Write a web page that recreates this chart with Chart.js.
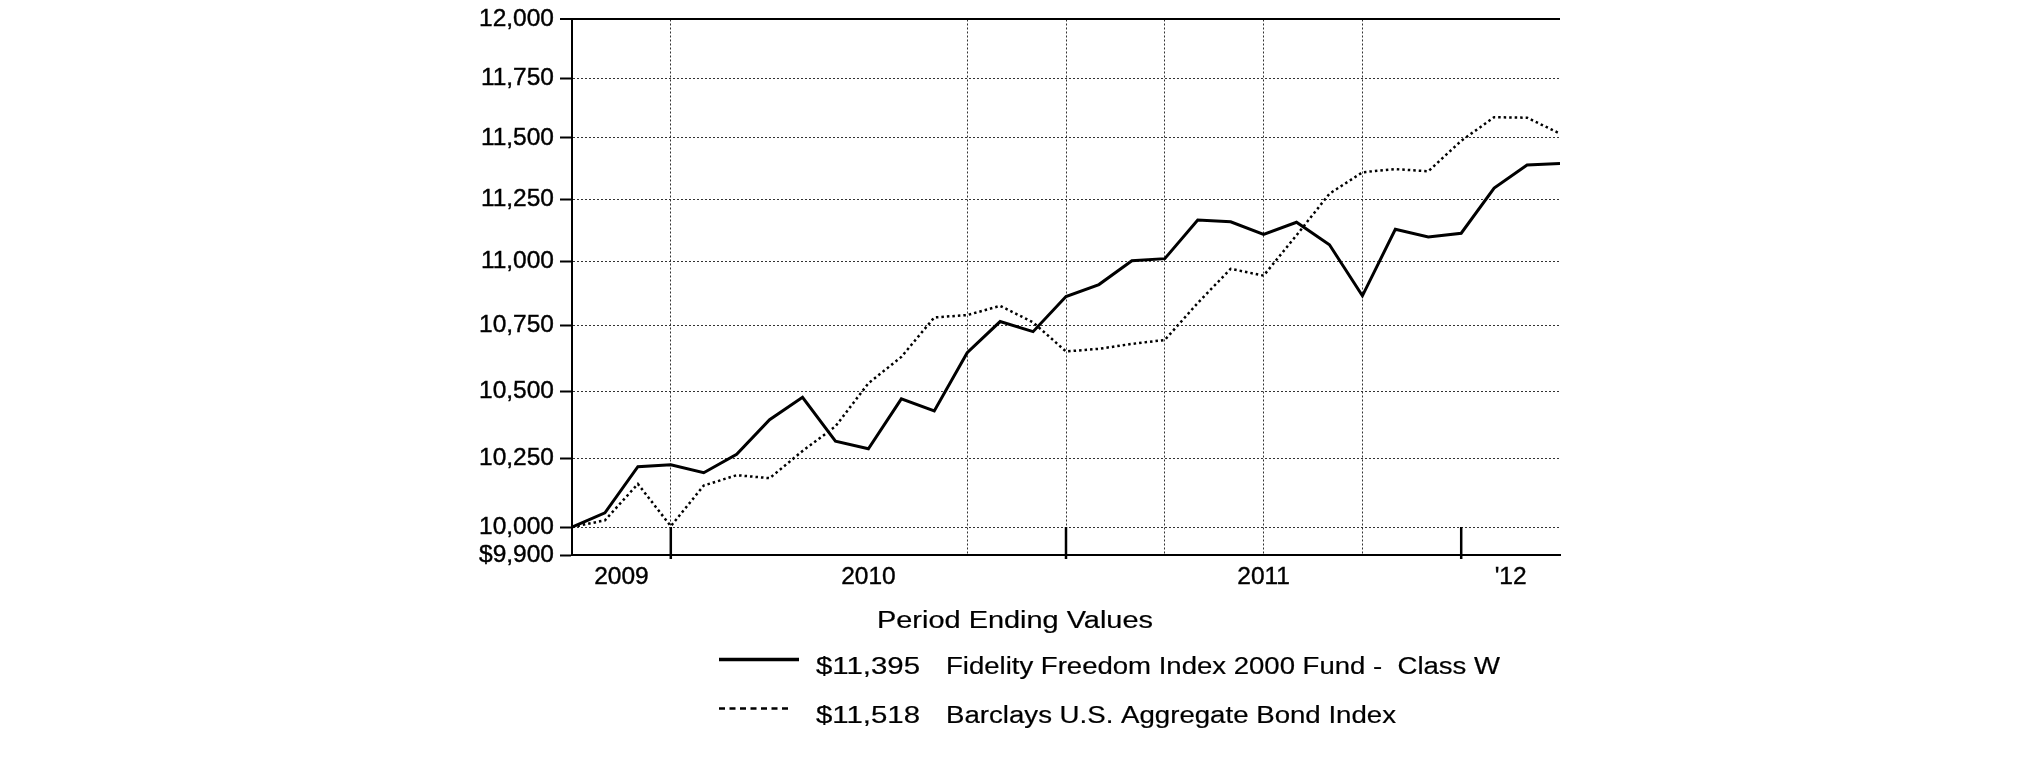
<!DOCTYPE html>
<html><head><meta charset="utf-8">
<script src="https://cdn.jsdelivr.net/npm/chart.js@4.4.0/dist/chart.umd.min.js"></script>
<style>html,body{margin:0;padding:0;background:#fff;} #wrap{width:2025px;height:761px;}</style>
</head><body><div id="wrap"><canvas id="c" width="2025" height="761"></canvas></div>
<script>
// ---- data ----
const months = ['Sep 2009','Oct 2009','Nov 2009','Dec 2009','Jan 2010','Feb 2010','Mar 2010','Apr 2010','May 2010','Jun 2010','Jul 2010','Aug 2010','Sep 2010','Oct 2010','Nov 2010','Dec 2010','Jan 2011','Feb 2011','Mar 2011','Apr 2011','May 2011','Jun 2011','Jul 2011','Aug 2011','Sep 2011','Oct 2011','Nov 2011','Dec 2011','Jan 2012','Feb 2012','Mar 2012'];
const fundName = 'Fidelity Freedom Index 2000 Fund -  Class W';
const bondName = 'Barclays U.S. Aggregate Bond Index';
const fundValues = [10000, 10051, 10219, 10226, 10197, 10265, 10393, 10477, 10313, 10285, 10471, 10426, 10646, 10766, 10727, 10863, 10910, 11004, 11012, 11166, 11159, 11108, 11157, 11067, 10866, 11129, 11098, 11113, 11295, 11389, 11395];
const bondValues = [10000, 10024, 10156, 10003, 10150, 10188, 10177, 10277, 10368, 10530, 10630, 10782, 10791, 10827, 10763, 10651, 10661, 10680, 10695, 10838, 10972, 10945, 11105, 11272, 11359, 11372, 11363, 11488, 11586, 11584, 11518];
const yTickValues = [9900, 10000, 10250, 10500, 10750, 11000, 11250, 11500, 11750, 12000];
const yearLabels = ['2009', '2010', '2011', "'12"];
const gridMonths = ['Dec 2009', 'Sep 2010', 'Dec 2010', 'Mar 2011', 'Jun 2011', 'Sep 2011'];
const legendTitle = 'Period Ending Values';

// ---- derived ----
const gridIdx = gridMonths.map(m => months.indexOf(m));
const yearEnds = months.map((m, i) => m.startsWith('Dec') ? i : -1).filter(i => i >= 0);
const bounds = [0, ...yearEnds, months.length - 1];
const yearLabelPos = yearLabels.map((l, k) => (bounds[k] + bounds[k + 1]) / 2);
const xTickVals = [...new Set([...gridIdx, ...yearLabelPos])].sort((a, b) => a - b);
const fmt = v => v.toLocaleString('en-US');

const FONT = '"Liberation Sans", Arial, Helvetica, sans-serif';
const GRID = '#333';

const yearTicks = {
  id: 'yearTicks',
  afterDraw(chart) {
    const { ctx, scales: { x, y } } = chart;
    ctx.save();
    ctx.strokeStyle = '#000';
    ctx.lineWidth = 2.5;
    yearEnds.forEach(i => {
      const px = x.getPixelForValue(i);
      ctx.beginPath();
      ctx.moveTo(px, y.getPixelForValue(yTickValues[1]));
      ctx.lineTo(px, y.bottom + 4);
      ctx.stroke();
    });
    ctx.restore();
  }
};

// draws text horizontally stretched to the given width (reference legend glyphs are wide)
function wideText(ctx, text, x, y, width) {
  const w = ctx.measureText(text).width;
  const k = width / w;
  ctx.save();
  ctx.translate(x, y);
  ctx.scale(k, 1);
  ctx.fillText(text, 0, 0);
  ctx.lineWidth = 0.2;
  ctx.strokeText(text, 0, 0);
  ctx.restore();
}

const legendPlugin = {
  id: 'periodLegend',
  afterDraw(chart) {
    const ctx = chart.ctx;
    ctx.save();
    ctx.fillStyle = '#000';
    ctx.strokeStyle = '#000';
    ctx.textBaseline = 'alphabetic';
    ctx.textAlign = 'left';
    ctx.font = '23.5px ' + FONT;
    wideText(ctx, legendTitle, 877, 628, 276);
    // row 1
    ctx.lineWidth = 3.5;
    ctx.setLineDash([]);
    ctx.beginPath(); ctx.moveTo(719, 659.5); ctx.lineTo(799, 659.5); ctx.stroke();
    wideText(ctx, '$' + fmt(fundValues[fundValues.length - 1]), 816, 673.5, 104);
    wideText(ctx, fundName, 946, 673.5, 554);
    // row 2
    ctx.lineWidth = 2.5;
    ctx.setLineDash([6, 4.5]);
    ctx.beginPath(); ctx.moveTo(719, 708.5); ctx.lineTo(791, 708.5); ctx.stroke();
    ctx.setLineDash([]);
    wideText(ctx, '$' + fmt(bondValues[bondValues.length - 1]), 816, 722.5, 104);
    wideText(ctx, bondName, 946, 722.5, 450);
    ctx.restore();
  }
};

new Chart(document.getElementById('c'), {
  type: 'line',
  data: {
    datasets: [
      { label: fundName, data: fundValues.map((v, i) => ({ x: i, y: v })), borderColor: '#000', borderWidth: 3, pointRadius: 0, tension: 0, fill: false },
      { label: bondName, data: bondValues.map((v, i) => ({ x: i, y: v })), borderColor: '#000', borderWidth: 2.5, borderDash: [2.5, 3], pointRadius: 0, tension: 0, fill: false }
    ]
  },
  options: {
    responsive: false,
    animation: false,
    events: [],
    layout: { padding: { left: 472, right: 465, top: 14, bottom: 166 } },
    plugins: { legend: { display: false }, tooltip: { enabled: false }, title: { display: false } },
    scales: {
      x: {
        type: 'linear', min: 0, max: months.length - 1, offset: false,
        afterBuildTicks: s => { s.ticks = xTickVals.map(v => ({ value: v })); },
        afterFit: s => { s.height = 40; },
        ticks: {
          autoSkip: false, maxRotation: 0, minRotation: 0, padding: 8, color: '#000',
          textStrokeColor: '#000', textStrokeWidth: 0.4,
          font: { family: FONT, size: 24.5 },
          callback: v => { const k = yearLabelPos.indexOf(v); return k >= 0 ? yearLabels[k] : ''; }
        },
        grid: {
          drawTicks: false, lineWidth: 1,
          color: c => (c.tick && gridIdx.includes(c.tick.value)) ? GRID : 'rgba(0,0,0,0)'
        },
        border: { display: true, color: '#000', width: 2, dash: [2, 2] }
      },
      y: {
        type: 'logarithmic', min: yTickValues[0], max: yTickValues[yTickValues.length - 1],
        afterBuildTicks: s => { s.ticks = yTickValues.map(v => ({ value: v })); },
        afterFit: s => { s.width = 100; },
        ticks: {
          autoSkip: false, padding: 6, color: '#000',
          textStrokeColor: '#000', textStrokeWidth: 0.4,
          font: { family: FONT, size: 24.5, lineHeight: 1.1 },
          callback: v => (v === yTickValues[0] ? '$' : '') + fmt(v)
        },
        grid: {
          drawTicks: true, tickLength: 12, tickWidth: 2, tickColor: '#000', tickBorderDash: [],
          lineWidth: c => (c.tick && c.tick.value === yTickValues[yTickValues.length - 1]) ? 2 : 1,
          color: c => {
            if (!c.tick) return GRID;
            if (c.tick.value === yTickValues[0]) return 'rgba(0,0,0,0)';
            if (c.tick.value === yTickValues[yTickValues.length - 1]) return '#000';
            return GRID;
          }
        },
        border: {
          display: true, color: '#000', width: 2,
          dash: c => (c && c.tick && c.tick.value === yTickValues[yTickValues.length - 1]) ? [] : [2, 2]
        }
      }
    }
  },
  plugins: [yearTicks, legendPlugin]
});
</script>
</body></html>
